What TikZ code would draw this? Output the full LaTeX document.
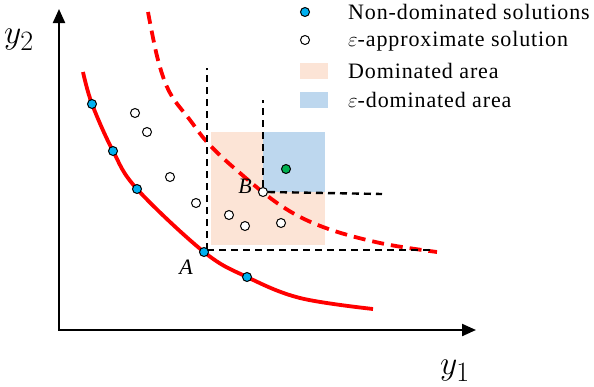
\documentclass[tikz,border=0pt]{standalone}
\usepackage{xcolor}
\usepackage{amsmath, amssymb}
\usepackage{fontspec}
\newfontfamily\legendfont[LetterSpace=4]{Liberation Serif}
\newfontfamily\labelfont{Liberation Serif}
\usepackage{tikz}
\usetikzlibrary{arrows.meta, calc}

\definecolor{ndblue}{RGB}{0,176,240}
\definecolor{domarea}{RGB}{252,228,214}
\definecolor{epsarea}{RGB}{189,215,238}
\definecolor{ptgreen}{RGB}{0,176,80}

\tikzset{
  ndpt/.style={circle, draw=black, line width=1pt, fill=ndblue, inner sep=0pt, minimum size=9pt},
  appt/.style={circle, draw=black, line width=1pt, fill=white, inner sep=0pt, minimum size=9pt},
  front/.style={red, line width=3.8pt},
  epsfront/.style={red, line width=3.8pt, dash pattern=on 12pt off 7pt},
  bound/.style={black, line width=2.4pt, dash pattern=on 7pt off 5pt},
  legtext/.style={anchor=west, inner sep=0pt, font=\legendfont\fontsize{22}{24}\selectfont},
  ptlabel/.style={inner sep=0pt, font=\labelfont\itshape\fontsize{22}{24}\selectfont},
  axlabel/.style={inner sep=0pt, font=\fontsize{24.88}{28}\selectfont},
}

\begin{document}
\begin{tikzpicture}[x=1pt, y=-1pt]
\useasboundingbox (0,0) rectangle (594,386);
% shaded areas
\fill[domarea] (211,132) rectangle (325,245);
\fill[epsarea] (263,132) rectangle (325,192);
% axes
\draw[line width=2.2pt, -{Triangle[length=14pt, width=12pt]}] (59,330) -- (59,9);
\draw[line width=2.2pt, -{Triangle[length=14pt, width=12pt]}] (58,330) -- (476,330);
\node[axlabel] (ytwo) at (19,40) {\scalebox{1.35}{$y_2$}};
\node[axlabel] (yone) at (455,371) {\scalebox{1.35}{$y_1$}};
% fronts
\draw[front] plot[smooth, tension=0.6] coordinates {(83,72) (92,104) (113,151) (137,189) (204,252) (247,277) (300,298) (373,309)};
\draw[epsfront] plot[smooth, tension=0.6] coordinates {(148,12) (158,60) (170,93) (190,120) (207,142) (233,167) (280,205) (323,227) (380,243) (437,252)};
% dominance bounds
\coordinate (Acorner) at (207,250);
\coordinate (Atop) at (207,68);
\coordinate (Aright) at (430,250);
\coordinate (Btop) at (263,100);
\coordinate (Bright) at (382,194);
\draw[bound] (Acorner) -- (Atop);
\draw[bound] (Acorner) -- (Aright);
% solutions
\node[ndpt] (A) at (204,252) {};
\node[ndpt] (n1) at (92,104) {};
\node[ndpt] (n2) at (113,151) {};
\node[ndpt] (n3) at (137,189) {};
\node[ndpt] (n4) at (247,277) {};
\node[appt] (B) at (263,192) {};
\draw[bound] (B.north) -- (Btop);
\draw[bound] (B.east) -- (Bright);
\foreach \px/\py [count=\i] in {135/113, 147/132, 170/177, 196/203, 229/215, 245/226, 281/223}
  \node[appt] (a\i) at (\px,\py) {};
\node[ndpt, fill=ptgreen] (g) at (286,169) {};
\node[ptlabel] (Alab) at (186,267) {A};
\node[ptlabel] (Blab) at (245,186) {B};
% legend
\node[ndpt] (lg1) at (305,12) {};
\node[appt] (lg2) at (305,40) {};
\node[fill=domarea, minimum width=28pt, minimum height=16pt, inner sep=0pt] (lg3) at (314,71) {};
\node[fill=epsarea, minimum width=28pt, minimum height=16pt, inner sep=0pt] (lg4) at (314,100) {};
\node[legtext] (t1) at (348,12) {Non-dominated solutions};
\node[legtext] (t2) at (348,41) {$\varepsilon$-approximate solution};
\node[legtext] (t3) at (348,71) {Dominated area};
\node[legtext] (t4) at (348,100) {$\varepsilon$-dominated area};
\end{tikzpicture}
\end{document}
